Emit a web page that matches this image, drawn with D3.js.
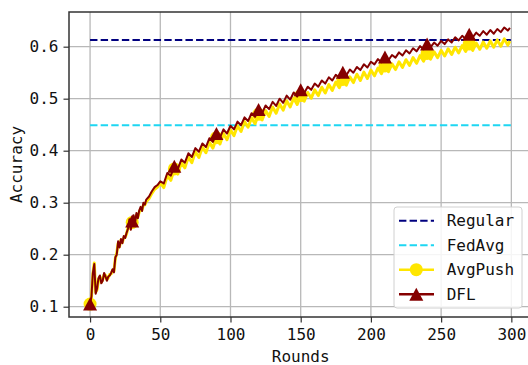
<!DOCTYPE html>
<html>
<head>
<meta charset="utf-8">
<script src="https://cdn.jsdelivr.net/npm/d3@7"></script>
<style>
  html, body { margin: 0; padding: 0; background: #fff; }
  text { font-family: 'DejaVu Sans Mono', monospace; }
</style>
</head>
<body>
<div id="chart"></div>
<script>
const rounds = [
  0, 1, 2, 3, 4, 5, 6, 7, 8, 9, 10, 11, 12, 13, 14, 15, 16, 17, 18, 19,
  20, 21, 22, 23, 24, 25, 26, 27, 28, 29, 30, 31, 32, 33, 34, 35, 36, 37, 38, 39,
  40, 42, 44, 46, 48, 50,
  52.5, 55, 57.5, 60, 62.5, 65, 67.5, 70, 72.5, 75, 77.5, 80, 82.5, 85, 87.5, 90, 92.5, 95, 97.5, 100,
  102.5, 105, 107.5, 110, 112.5, 115, 117.5, 120, 122.5, 125, 127.5, 130, 132.5, 135, 137.5, 140, 142.5, 145, 147.5, 150,
  152.5, 155, 157.5, 160, 162.5, 165, 167.5, 170, 172.5, 175, 177.5, 180, 182.5, 185, 187.5, 190, 192.5, 195, 197.5, 200,
  202.5, 205, 207.5, 210, 212.5, 215, 217.5, 220, 222.5, 225, 227.5, 230, 232.5, 235, 237.5, 240, 242.5, 245, 247.5, 250,
  252.5, 255, 257.5, 260, 262.5, 265, 267.5, 270, 272.5, 275, 277.5, 280, 282.5, 285, 287.5, 290, 292.5, 295, 297.5, 299,
];

const avgPush = [
  0.105, 0.118, 0.163, 0.184, 0.128, 0.133, 0.152, 0.158, 0.147, 0.152,
  0.162, 0.16, 0.152, 0.156, 0.162, 0.163, 0.17, 0.168, 0.193, 0.203,
  0.222, 0.216, 0.228, 0.224, 0.233, 0.234, 0.24, 0.252, 0.265, 0.25,
  0.262, 0.272, 0.262, 0.276, 0.272, 0.282, 0.288, 0.286, 0.296, 0.296,
  0.302, 0.308, 0.318, 0.326, 0.33, 0.338,
  0.329, 0.352, 0.343, 0.365, 0.355, 0.377, 0.367, 0.388, 0.377, 0.398, 0.387, 0.407, 0.396, 0.416, 0.405, 0.425, 0.413, 0.433, 0.421, 0.44,
  0.429, 0.448, 0.437, 0.456, 0.445, 0.463, 0.452, 0.47, 0.459, 0.477, 0.466, 0.484, 0.472, 0.49, 0.478, 0.496, 0.484, 0.501, 0.489, 0.506,
  0.495, 0.512, 0.501, 0.517, 0.506, 0.522, 0.511, 0.527, 0.516, 0.532, 0.521, 0.537, 0.526, 0.542, 0.531, 0.547, 0.535, 0.551, 0.539, 0.555,
  0.544, 0.559, 0.548, 0.563, 0.552, 0.567, 0.556, 0.571, 0.56, 0.575, 0.564, 0.579, 0.568, 0.583, 0.572, 0.587, 0.576, 0.59, 0.579, 0.593,
  0.582, 0.596, 0.585, 0.599, 0.588, 0.602, 0.591, 0.605, 0.593, 0.607, 0.595, 0.609, 0.597, 0.611, 0.599, 0.613, 0.601, 0.615, 0.603, 0.611,
];

const dfl = [
  0.105, 0.12, 0.165, 0.182, 0.125, 0.135, 0.155, 0.16, 0.145, 0.15,
  0.165, 0.158, 0.15, 0.158, 0.16, 0.165, 0.172, 0.166, 0.195, 0.2,
  0.226, 0.214, 0.23, 0.222, 0.236, 0.232, 0.242, 0.25, 0.268, 0.248,
  0.265, 0.276, 0.26, 0.28, 0.27, 0.285, 0.292, 0.284, 0.3, 0.296,
  0.306, 0.312, 0.322, 0.33, 0.334, 0.341,
  0.337, 0.357, 0.352, 0.37, 0.365, 0.383, 0.377, 0.395, 0.388, 0.405, 0.398, 0.414, 0.407, 0.424, 0.417, 0.433, 0.425, 0.441, 0.433, 0.448,
  0.441, 0.456, 0.449, 0.464, 0.457, 0.472, 0.465, 0.479, 0.472, 0.487, 0.48, 0.494, 0.486, 0.5, 0.492, 0.506, 0.498, 0.512, 0.504, 0.517,
  0.511, 0.523, 0.517, 0.529, 0.523, 0.535, 0.529, 0.541, 0.535, 0.546, 0.54, 0.551, 0.545, 0.556, 0.55, 0.561, 0.555, 0.566, 0.56, 0.571,
  0.566, 0.576, 0.57, 0.58, 0.574, 0.584, 0.579, 0.589, 0.583, 0.593, 0.587, 0.597, 0.591, 0.601, 0.595, 0.605, 0.599, 0.608, 0.602, 0.611,
  0.605, 0.614, 0.608, 0.618, 0.612, 0.621, 0.615, 0.624, 0.618, 0.627, 0.621, 0.63, 0.623, 0.632, 0.625, 0.634, 0.628, 0.637, 0.631, 0.636,
];

// horizontal baselines
const regularAcc = 0.613;
const fedAvgAcc = 0.449;
const baselineSpan = [0, 300];

const xTicks = [0, 50, 100, 150, 200, 250, 300];
const yTicks = [0.1, 0.2, 0.3, 0.4, 0.5, 0.6];
const legendLabels = ['Regular', 'FedAvg', 'AvgPush', 'DFL'];

const width = 528;
const height = 365;
const plot = { left: 69, right: 531, top: 12, bottom: 317 };

const colors = {
  regular: '#00007f',
  fedAvg: '#1ed6f2',
  avgPush: '#ffe600',
  dfl: '#850000',
};

const svg = d3
  .select('#chart')
  .append('svg')
  .attr('width', width)
  .attr('height', height);

const x = d3.scaleLinear().domain([-15, 314]).range([plot.left, plot.right]);
const y = d3.scaleLinear().domain([0.0802, 0.6667]).range([plot.bottom, plot.top]);

// grid
svg
  .append('g')
  .selectAll('line')
  .data(xTicks)
  .enter()
  .append('line')
  .attr('x1', (d) => x(d))
  .attr('x2', (d) => x(d))
  .attr('y1', plot.top)
  .attr('y2', plot.bottom)
  .attr('stroke', '#b8b8b8')
  .attr('stroke-width', 1.3);

svg
  .append('g')
  .selectAll('line')
  .data(yTicks)
  .enter()
  .append('line')
  .attr('x1', plot.left)
  .attr('x2', plot.right)
  .attr('y1', (d) => y(d))
  .attr('y2', (d) => y(d))
  .attr('stroke', '#b8b8b8')
  .attr('stroke-width', 1.3);

// axes
const xAxis = svg
  .append('g')
  .attr('transform', `translate(0, ${plot.bottom})`)
  .call(d3.axisBottom(x).tickValues(xTicks).tickSize(5.5).tickPadding(6).tickSizeOuter(0));

const yAxis = svg
  .append('g')
  .attr('transform', `translate(${plot.left}, 0)`)
  .call(
    d3
      .axisLeft(y)
      .tickValues(yTicks)
      .tickFormat(d3.format('.1f'))
      .tickSize(5.5)
      .tickPadding(5)
      .tickSizeOuter(0)
  );

[xAxis, yAxis].forEach((g) => {
  g.select('.domain').remove();
  g.selectAll('.tick line').attr('stroke', '#333').attr('stroke-width', 1.2);
  g.selectAll('text')
    .attr('fill', '#111')
    .style('font-size', '16px')
    .style('font-family', "'DejaVu Sans Mono', monospace");
});

// spines
svg
  .append('path')
  .attr('d', `M${plot.right},${plot.top}H${plot.left}V${plot.bottom}H${plot.right}`)
  .attr('fill', 'none')
  .attr('stroke', '#333')
  .attr('stroke-width', 1.5);

svg
  .append('text')
  .attr('x', x(150))
  .attr('y', 362)
  .attr('text-anchor', 'middle')
  .style('font-size', '16px')
  .attr('fill', '#111')
  .text('Rounds');

svg
  .append('text')
  .attr('transform', `translate(22, ${(plot.top + plot.bottom) / 2}) rotate(-90)`)
  .attr('text-anchor', 'middle')
  .style('font-size', '16px')
  .attr('fill', '#111')
  .text('Accuracy');

// baselines
[
  [regularAcc, colors.regular],
  [fedAvgAcc, colors.fedAvg],
].forEach(([v, c]) => {
  svg
    .append('line')
    .attr('x1', x(baselineSpan[0]))
    .attr('x2', x(baselineSpan[1]))
    .attr('y1', y(v))
    .attr('y2', y(v))
    .attr('stroke', c)
    .attr('stroke-width', 2)
    .attr('stroke-dasharray', '7.4 3.2');
});

const line = d3
  .line()
  .x((d) => x(d[0]))
  .y((d) => y(d[1]));

const avgPushData = rounds.map((r, i) => [r, avgPush[i]]);
const dflData = rounds.map((r, i) => [r, dfl[i]]);
const isMarker = (d) => d[0] % 30 === 0;

const triangle = 'M0,-6.5L7,6.5L-7,6.5Z';

svg
  .append('path')
  .datum(avgPushData)
  .attr('fill', 'none')
  .attr('stroke', colors.avgPush)
  .attr('stroke-width', 3)
  .attr('stroke-linejoin', 'round')
  .attr('d', line);

svg
  .selectAll('.dot-avg')
  .data(avgPushData.filter(isMarker))
  .enter()
  .append('circle')
  .attr('class', 'dot-avg')
  .attr('r', 6.5)
  .attr('cx', (d) => x(d[0]))
  .attr('cy', (d) => y(d[1]))
  .attr('fill', colors.avgPush);

svg
  .append('path')
  .datum(dflData)
  .attr('fill', 'none')
  .attr('stroke', colors.dfl)
  .attr('stroke-width', 2)
  .attr('stroke-linejoin', 'round')
  .attr('d', line);

svg
  .selectAll('.dot-dfl')
  .data(dflData.filter(isMarker))
  .enter()
  .append('path')
  .attr('class', 'dot-dfl')
  .attr('d', triangle)
  .attr('transform', (d) => `translate(${x(d[0])}, ${y(d[1])})`)
  .attr('fill', colors.dfl);

// legend
const legend = svg.append('g').attr('transform', 'translate(394, 207)');

legend
  .append('rect')
  .attr('width', 128)
  .attr('height', 101)
  .attr('rx', 3)
  .attr('fill', 'rgba(255,255,255,0.85)')
  .attr('stroke', '#d0d0d0');

const legendStyles = [
  { color: colors.regular, dash: '7.4 3.2', marker: null },
  { color: colors.fedAvg, dash: '7.4 3.2', marker: null },
  { color: colors.avgPush, dash: null, marker: 'circle' },
  { color: colors.dfl, dash: null, marker: 'triangle' },
];

legendLabels.forEach((label, i) => {
  const s = legendStyles[i];
  const cy = 13.7 + i * 24.5;
  legend
    .append('line')
    .attr('x1', 5)
    .attr('x2', 40)
    .attr('y1', cy)
    .attr('y2', cy)
    .attr('stroke', s.color)
    .attr('stroke-width', s.marker ? 2.5 : 2)
    .attr('stroke-dasharray', s.dash);
  if (s.marker === 'circle') {
    legend
      .append('circle')
      .attr('cx', 22.3)
      .attr('cy', cy)
      .attr('r', 6.5)
      .attr('fill', s.color);
  } else if (s.marker === 'triangle') {
    legend
      .append('path')
      .attr('d', triangle)
      .attr('transform', `translate(22.3, ${cy})`)
      .attr('fill', s.color);
  }
  legend
    .append('text')
    .attr('x', 52.7)
    .attr('y', cy + 5.7)
    .style('font-size', '16px')
    .attr('fill', '#111')
    .text(label);
});
</script>
</body>
</html>
